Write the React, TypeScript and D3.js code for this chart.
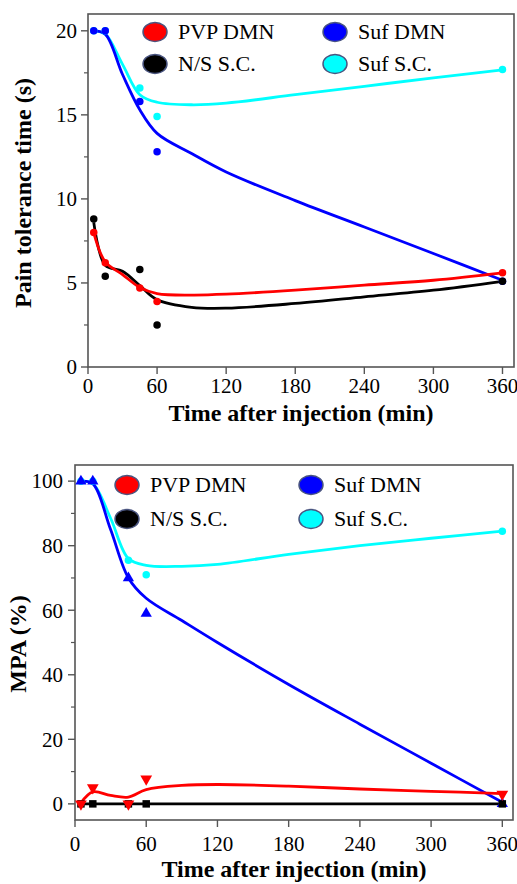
import React, { useRef, useEffect } from "react";
import * as d3 from "d3";

// sampling times (min)
const times = [5, 15, 45, 60, 360];
const fitTimes = [5, 15, 30, 45, 60, 90, 120, 180, 240, 300, 360];

const seriesNames = ["PVP DMN", "N/S S.C.", "Suf DMN", "Suf S.C."];
const seriesColors = ["#ff0000", "#000000", "#0000ff", "#00ffff"];

// pain tolerance time (s)
const painPvpDmn = [8.0, 6.2, 4.7, 3.9, 5.6];
const painNsSc = [8.8, 5.4, 5.8, 2.5, 5.1];
const painSufDmn = [20, 20, 15.8, 12.8, 5.1];
const painSufSc = [20, 20, 16.6, 14.9, 17.7];

const painFitPvpDmn = [8.0, 6.25, 5.5, 4.73, 4.37, 4.28, 4.33, 4.57, 4.87, 5.16, 5.6];
const painFitNsSc = [8.6, 6.05, 5.7, 4.85, 4.0, 3.55, 3.5, 3.78, 4.17, 4.57, 5.1];
const painFitSufDmn = [20, 19.8, 17.4, 15.3, 13.9, 12.7, 11.6, 9.9, 8.33, 6.75, 5.16];
const painFitSufSc = [20, 19.8, 18.0, 16.2, 15.75, 15.6, 15.7, 16.2, 16.7, 17.2, 17.67];

// MPA (%)
const mpaPvpDmn = [0, 5, 0, 7.7, 3];
const mpaNsSc = [0, 0, 0, 0, 0];
const mpaSufDmn = [100, 100, 70, 59, 0];
const mpaSufSc = [100, 100, 75.5, 71, 84.5];

const mpaFitPvpDmn = [0.3, 3.7, 2.6, 2.1, 4.4, 5.7, 6.0, 5.5, 4.6, 3.9, 3.2];
const mpaFitNsSc = [0, 0, 0, 0, 0, 0, 0, 0, 0, 0, 0];
const mpaFitSufDmn = [100, 99.2, 85, 70, 63.7, 56.8, 50, 37, 24.7, 12.6, 0.5];
const mpaFitSufSc = [100, 99.2, 88.5, 76, 73.9, 73.6, 74.2, 77.3, 80, 82.3, 84.5];

const xTicks = [0, 60, 120, 180, 240, 300, 360];

const FONT = "Liberation Serif, Times New Roman, DejaVu Serif, serif";
const FRAME = "#555";

function drawPanel(svg, p) {
  const x = d3.scaleLinear().domain(p.xDomain).range([p.left, p.right]);
  const y = d3.scaleLinear().domain(p.yDomain).range([p.bottom, p.top]);
  const g = svg.append("g").style("font-family", FONT);

  // frame
  g.append("rect")
    .attr("x", p.left)
    .attr("y", p.top)
    .attr("width", p.right - p.left)
    .attr("height", p.bottom - p.top)
    .attr("fill", "none")
    .attr("stroke", FRAME)
    .attr("stroke-width", 1.6);

  // y ticks
  g.selectAll(".ytick")
    .data(p.yTicks)
    .enter()
    .append("line")
    .attr("x1", p.left - 7)
    .attr("x2", p.left)
    .attr("y1", (d) => y(d))
    .attr("y2", (d) => y(d))
    .attr("stroke", FRAME)
    .attr("stroke-width", 1.4);
  g.selectAll(".yminor")
    .data(p.yMinor)
    .enter()
    .append("line")
    .attr("x1", p.left - 4)
    .attr("x2", p.left)
    .attr("y1", (d) => y(d))
    .attr("y2", (d) => y(d))
    .attr("stroke", FRAME)
    .attr("stroke-width", 1.2);
  g.selectAll(".ylab")
    .data(p.yTicks)
    .enter()
    .append("text")
    .attr("x", p.yLabelEnd)
    .attr("y", (d) => y(d))
    .attr("dy", "0.35em")
    .attr("text-anchor", "end")
    .style("font-size", "21px")
    .text((d) => d);

  // x ticks
  g.selectAll(".xtick")
    .data(xTicks)
    .enter()
    .append("line")
    .attr("x1", (d) => x(d))
    .attr("x2", (d) => x(d))
    .attr("y1", p.bottom)
    .attr("y2", p.bottom + 7)
    .attr("stroke", FRAME)
    .attr("stroke-width", 1.4);
  g.selectAll(".xlab")
    .data(xTicks)
    .enter()
    .append("text")
    .attr("x", (d) => x(d))
    .attr("y", p.xLabelBase)
    .attr("text-anchor", "middle")
    .style("font-size", "21px")
    .text((d) => d);

  // axis titles
  g.append("text")
    .attr("x", (p.left + p.right) / 2)
    .attr("y", p.xTitleBase)
    .attr("text-anchor", "middle")
    .style("font-weight", "bold")
    .style("font-size", "24px")
    .text("Time after injection (min)");
  g.append("text")
    .attr("transform", `translate(${p.yTitleX},${p.yTitleY}) rotate(-90)`)
    .attr("text-anchor", "middle")
    .style("font-weight", "bold")
    .style("font-size", "24px")
    .text(p.yTitle);

  // fitted curves
  const line = d3
    .line()
    .x((d) => x(d[0]))
    .y((d) => y(d[1]))
    .curve(d3.curveCatmullRom.alpha(0.5));
  p.order.forEach((i) => {
    g.append("path")
      .attr("d", line(fitTimes.map((t, k) => [t, p.fits[i][k]])))
      .attr("fill", "none")
      .attr("stroke", seriesColors[i])
      .attr("stroke-width", 2.8);
  });

  // data points
  p.order.forEach((i) => {
    const sym = d3.symbol().type(p.shapes[i].type).size(p.shapes[i].size);
    g.selectAll(".pt" + i)
      .data(times.map((t, k) => [t, p.values[i][k]]))
      .enter()
      .append("path")
      .attr("d", sym)
      .attr(
        "transform",
        (d) => `translate(${x(d[0])},${y(d[1])})` + (p.shapes[i].flip ? " rotate(180)" : "")
      )
      .attr("fill", seriesColors[i]);
  });

  // legend
  seriesNames.forEach((name, i) => {
    const col = Math.floor(i / 2);
    const row = i % 2;
    const cy = p.legendRows[row];
    g.append("ellipse")
      .attr("cx", p.legendCols[col])
      .attr("cy", cy)
      .attr("rx", 12)
      .attr("ry", 9.5)
      .attr("fill", seriesColors[i])
      .attr("stroke", "#4a5580")
      .attr("stroke-width", 1.5);
    g.append("text")
      .attr("x", p.legendCols[col] + 23)
      .attr("y", cy + 7)
      .style("font-size", "22px")
      .text(name);
  });
}

export default function App() {
  const svgRef = useRef(null);

  useEffect(() => {
    const svg = d3.select(svgRef.current);
    svg.selectAll("*").remove();

    const dot = { type: d3.symbolCircle, size: 44 };

    drawPanel(svg, {
      left: 88,
      right: 514,
      top: 14,
      bottom: 367,
      xDomain: [0, 370],
      yDomain: [0, 21],
      yTicks: [0, 5, 10, 15, 20],
      yMinor: [2.5, 7.5, 12.5, 17.5],
      yLabelEnd: 77,
      xLabelBase: 393,
      xTitleBase: 421,
      yTitle: "Pain tolerance time (s)",
      yTitleX: 31,
      yTitleY: 193,
      values: [painPvpDmn, painNsSc, painSufDmn, painSufSc],
      fits: [painFitPvpDmn, painFitNsSc, painFitSufDmn, painFitSufSc],
      shapes: [dot, dot, dot, dot],
      order: [3, 2, 1, 0],
      legendCols: [155, 335],
      legendRows: [32, 64],
    });

    drawPanel(svg, {
      left: 75,
      right: 513,
      top: 465,
      bottom: 820,
      xDomain: [0, 369],
      yDomain: [-5, 105],
      yTicks: [0, 20, 40, 60, 80, 100],
      yMinor: [10, 30, 50, 70, 90],
      yLabelEnd: 63,
      xLabelBase: 851,
      xTitleBase: 877,
      yTitle: "MPA (%)",
      yTitleX: 26,
      yTitleY: 644,
      values: [mpaPvpDmn, mpaNsSc, mpaSufDmn, mpaSufSc],
      fits: [mpaFitPvpDmn, mpaFitNsSc, mpaFitSufDmn, mpaFitSufSc],
      shapes: [
        { type: d3.symbolTriangle, size: 60, flip: true },
        { type: d3.symbolSquare, size: 56 },
        { type: d3.symbolTriangle, size: 55 },
        dot,
      ],
      order: [3, 2, 1, 0],
      legendCols: [127, 311],
      legendRows: [485, 519],
    });
  }, []);

  return (
    <div style={{ position: "absolute", left: 0, top: 0 }}>
      <svg ref={svgRef} width={517} height={884} style={{ display: "block", background: "#fff" }}></svg>
    </div>
  );
}
